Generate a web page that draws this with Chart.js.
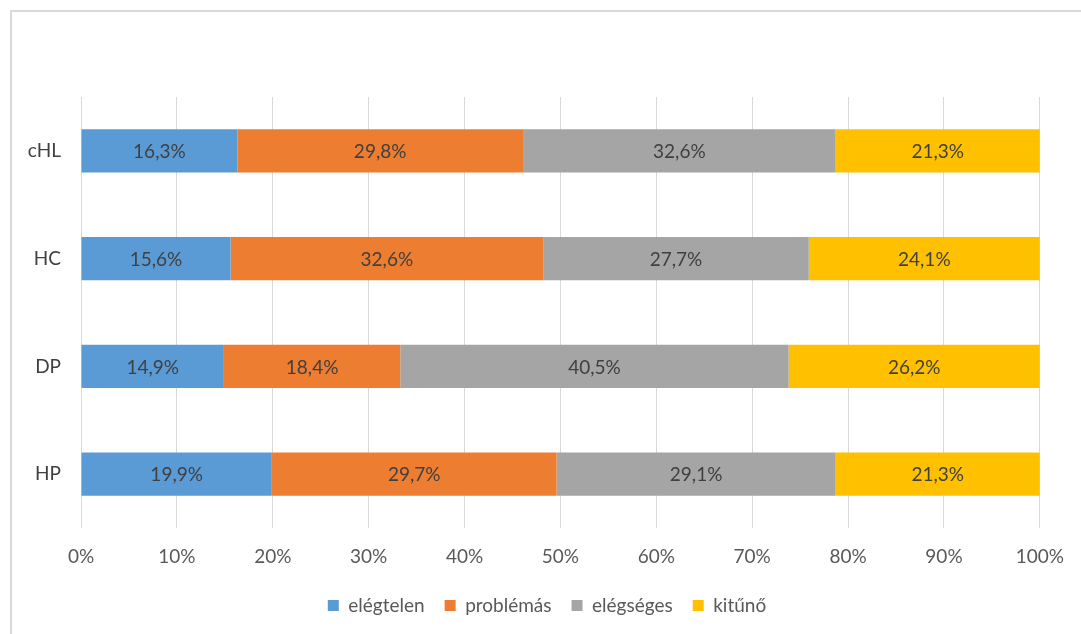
<!DOCTYPE html>
<html>
<head>
<meta charset="utf-8">
<title>Megoszlás</title>
<script src="https://cdn.jsdelivr.net/npm/chart.js@4.4.0/dist/chart.umd.min.js"></script>
<style>
  html, body { margin: 0; padding: 0; background: #fff; }
  #wrap { position: relative; width: 1081px; height: 634px; overflow: hidden; }
  #frame {
    position: absolute; left: 10px; top: 10px; width: 1200px; height: 700px;
    border-left: 2px solid #d9d9d9; border-top: 2px solid #d9d9d9;
  }
  #chart { position: absolute; left: 0; top: 0; }
</style>
</head>
<body>
<div id="wrap">
  <div id="frame"></div>
  <canvas id="chart" width="1081" height="634"></canvas>
</div>
<script>
const groups = ['cHL', 'HC', 'DP', 'HP'];
const seriesNames = ['elégtelen', 'problémás', 'elégséges', 'kitűnő'];
const seriesColors = ['#5B9BD5', '#ED7D31', '#A5A5A5', '#FFC000'];

const elegtelen = [16.3, 15.6, 14.9, 19.9];
const problemas = [29.8, 32.6, 18.4, 29.7];
const elegseges = [32.6, 27.7, 40.5, 29.1];
const kituno    = [21.3, 24.1, 26.2, 21.3];

const xTicks = [0, 10, 20, 30, 40, 50, 60, 70, 80, 90, 100];

const FONT = 'Lato, "Open Sans", sans-serif';

// values printed in the middle of every segment, Hungarian decimal comma
const barLabels = {
    id: 'barLabels',
    afterDatasetsDraw(chart) {
        const ctx = chart.ctx;
        ctx.save();
        ctx.font = '19px ' + FONT;
        ctx.fillStyle = '#404040';
        ctx.textAlign = 'center';
        ctx.textBaseline = 'middle';
        chart.data.datasets.forEach((ds, i) => {
            chart.getDatasetMeta(i).data.forEach((bar, j) => {
                const c = bar.getCenterPoint();
                const txt = ds.data[j].toFixed(1).replace('.', ',') + '%';
                ctx.fillText(txt, c.x, c.y + 1);
            });
        });
        ctx.restore();
    }
};

// legend sits a bit right of the canvas centre
const legendShift = {
    id: 'legendShift',
    afterLayout(chart) {
        chart.legend.left += 27;
        chart.legend.right += 27;
    }
};

const seriesData = [elegtelen, problemas, elegseges, kituno];

const ctx = document.getElementById('chart').getContext('2d');
new Chart(ctx, {
    type: 'bar',
    data: {
        labels: groups,
        datasets: seriesNames.map((name, i) => ({
            label: name,
            data: seriesData[i],
            backgroundColor: seriesColors[i],
            borderWidth: 0,
            categoryPercentage: 0.4,
            barPercentage: 1
        }))
    },
    options: {
        indexAxis: 'y',
        responsive: false,
        animation: false,
        layout: {
            padding: { left: 0, right: 41, top: 97, bottom: 9 }
        },
        plugins: {
            legend: {
                position: 'bottom',
                labels: {
                    boxWidth: 11,
                    boxHeight: 11,
                    padding: 20,
                    color: '#595959',
                    font: { family: FONT, size: 19 }
                }
            },
            tooltip: { enabled: false }
        },
        scales: {
            x: {
                stacked: true,
                min: 0,
                max: 100,
                afterBuildTicks: axis => {
                    axis.ticks = xTicks.map(v => ({ value: v }));
                },
                afterFit: axis => { axis.height = 48; },
                grid: { color: '#d9d9d9', lineWidth: 1, drawTicks: false },
                border: { display: false },
                ticks: {
                    padding: 17,
                    color: '#595959',
                    font: { family: FONT, size: 19 },
                    callback: v => v + '%'
                }
            },
            y: {
                stacked: true,
                afterFit: axis => { axis.width = 81; },
                grid: { display: false, drawTicks: false },
                border: { display: false },
                ticks: {
                    padding: 20,
                    color: '#404040',
                    font: { family: FONT, size: 19 }
                }
            }
        }
    },
    plugins: [barLabels, legendShift]
});
</script>
</body>
</html>
